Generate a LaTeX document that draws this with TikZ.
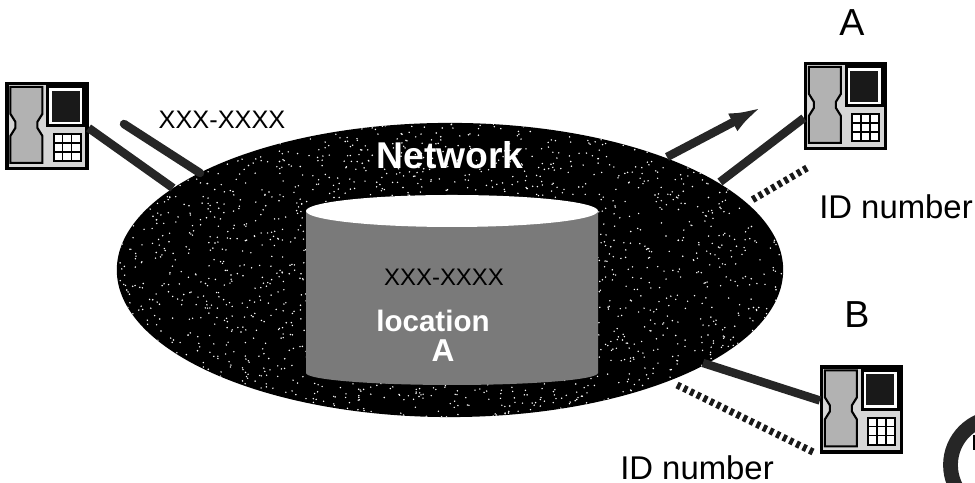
\documentclass[tikz,border=0pt]{standalone}
\usepackage{fontspec}
\setmainfont{Liberation Sans}
\usetikzlibrary{positioning,calc,shapes.geometric,arrows.meta}
\tikzset{
	phonebox/.style={draw, line width=0.9pt, fill=black!16, minimum width=0.80cm, minimum height=0.85cm, inner sep=0pt},
	netlink/.style={line width=2.4pt, black!85},
	idlink/.style={line width=2pt, dash pattern=on 1.1pt off 1pt, black!90},
	label/.style={inner sep=0pt, font=\fontsize{7.2pt}{9pt}\selectfont},
	biglabel/.style={inner sep=0pt, font=\fontsize{10.7pt}{12pt}\selectfont},
	idlabel/.style={inner sep=0pt, font=\fontsize{9.35pt}{11pt}\selectfont},
	whitelabel/.style={inner sep=0pt, white, font=\bfseries\fontsize{8.4pt}{10pt}\selectfont}
}
% one telephone, drawn over its box
\newcommand{\phonedetail}[1]{
	\draw[line width=0.6pt, fill=black!30] ($(#1.north west)+(5,5)$) -- ++(32,0) -- ++(0,27) -- ++(-5,8) -- ++(0,6) -- ++(5,8) -- ++(0,27) -- ++(-32,0) -- ++(0,-27) -- ++(5,-8) -- ++(0,-6) -- ++(-5,-8) -- cycle;
	\draw[line width=0.8pt, fill=white] ($(#1.north east)+(-5,5)$) rectangle ++(-36,39);
	\fill[black!90] ($(#1.north east)+(-9,9)$) rectangle ++(-28,31);
	\draw[line width=0.6pt, fill=white] ($(#1.south east)+(-8,-9)$) rectangle ++(-27,-27);
	\draw[line width=0.4pt] ($(#1.south east)+(-17,-9)$) -- ++(0,-27);
	\draw[line width=0.4pt] ($(#1.south east)+(-26,-9)$) -- ++(0,-27);
	\draw[line width=0.4pt] ($(#1.south east)+(-8,-18)$) -- ++(-27,0);
	\draw[line width=0.4pt] ($(#1.south east)+(-8,-27)$) -- ++(-27,0);
}
\begin{document}
\begin{tikzpicture}[x=0.01cm, y=-0.01cm]
	\useasboundingbox (0,0) rectangle (975,483);
	\fill[white] (0,0) rectangle (975,483);

	\coordinate (callend) at (124,124);
	\coordinate (callin) at (200,173);
	\coordinate (phoneLin) at (173,188);
	\coordinate (arrowstart) at (667,157);
	\coordinate (arrowend) at (762,107);
	\coordinate (phoneAin) at (720,182);
	\coordinate (idA) at (807,168);
	\coordinate (idAin) at (752,200);
	\coordinate (phoneBin) at (703,363);
	\coordinate (idB) at (813,452);
	\coordinate (idBin) at (675,384);

	% network and database
	\node[fill=black, ellipse, minimum width=6.66cm, minimum height=2.94cm, inner sep=0pt] (network) at (450,270) {};
	\begin{scope}
		\clip (450,270) ellipse [x radius=333, y radius=147];
		\pgfmathsetseed{7}
		\foreach \i in {1,...,2400}{
			\pgfmathsetmacro{\dotx}{117+rnd*666}
			\pgfmathsetmacro{\doty}{123+rnd*294}
			\fill[white] (\dotx,\doty) circle [radius=0.8];
		}
	\end{scope}
	\fill[black!52] (306,211) -- (306,373) arc [start angle=180, end angle=0, x radius=146, y radius=12] -- (598,211) -- cycle;
	\fill[white] (452,211) ellipse [x radius=146, y radius=16];

	\node[whitelabel, font=\bfseries\fontsize{10.6pt}{12pt}\selectfont] (nettext) at (450,155) {Network};
	\node[label, font=\fontsize{6.8pt}{9pt}\selectfont] (dbnumber) at (444,277) {XXX-XXXX};
	\node[whitelabel] (location) at (433,321) {location};
	\node[whitelabel, font=\bfseries\fontsize{9pt}{10pt}\selectfont] (dbletter) at (443,351) {A};

	% telephones
	\node[phonebox] (phoneL) at (47,126) {};
	\node[phonebox] (phoneA) at (845.5,106) {};
	\node[phonebox] (phoneB) at (861.5,409.5) {};
	\phonedetail{phoneL}
	\phonedetail{phoneA}
	\phonedetail{phoneB}

	% connections
	\draw[netlink] (phoneL.east) ++(0,2) -- (phoneLin);
	\draw[netlink, line cap=round] (callend) -- (callin);
	\draw[netlink, -{Latex[length=0.33cm,width=0.2cm]}] (arrowstart) -- (arrowend);
	\draw[netlink] (phoneA.west) ++(0,12) -- (phoneAin);
	\draw[idlink] (idA) -- (idAin);
	\draw[netlink] (phoneB.west) ++(0,-9) -- (phoneBin);
	\draw[idlink] (idB) -- (idBin);

	% labels
	\node[label] (number) at (222,120) {XXX-XXXX};
	\node[biglabel] (labelA) at (852,23) {A};
	\node[biglabel] (labelB) at (857,315) {B};
	\node[idlabel] (idtextA) at (896,207) {ID number};
	\node[idlabel] (idtextB) at (697,468) {ID number};

	% corner mark
	\draw[line width=4.2pt, black!85] (998,465) circle [radius=47.5];
	\draw[line width=1pt] (974.5,435) -- (974.5,450);
\end{tikzpicture}
\end{document}
